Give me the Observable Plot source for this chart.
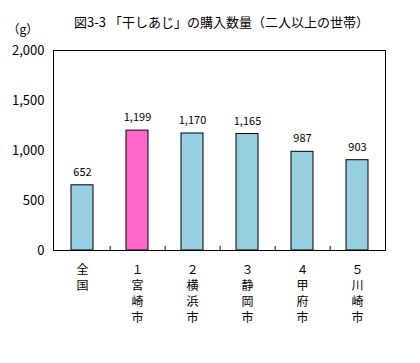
<!DOCTYPE html>
<html><head><meta charset="utf-8">
<script src="https://cdn.jsdelivr.net/npm/d3@7"></script>
<script src="https://cdn.jsdelivr.net/npm/@observablehq/plot@0.6"></script>
<style>
html,body{margin:0;padding:0;background:#fff;overflow:hidden;}
svg{display:block;font-family:"Noto Sans CJK JP",sans-serif;}
</style></head><body><div id="chart"></div>
<script>
const categories = ["全国", "1宮崎市", "2横浜市", "3静岡市", "4甲府市", "5川崎市"];
const values = [652, 1199, 1170, 1165, 987, 903];
const highlight = "1宮崎市";
const yTicks = [0, 500, 1000, 1500, 2000];
const title = "図3-3 「干しあじ」の購入数量（二人以上の世帯）";
const unit = "（g）";

const data = categories.map((c, i) => ({cat: c, value: values[i]}));
const toFullDigit = s => s.replace(/[0-9]/g, ch => String.fromCharCode(ch.charCodeAt(0) + 0xFEE0));
const vertical = s => Array.from(toFullDigit(s)).join("\n");

const plot = Plot.plot({
  width: 420, height: 363,
  marginLeft: 53, marginRight: 35, marginTop: 50, marginBottom: 113,
  style: {fontFamily: "'Noto Sans CJK JP', sans-serif", background: "#fff"},
  x: {domain: categories, paddingInner: 0.6, paddingOuter: 0.3, axis: null, label: null},
  y: {domain: [0, 2000], axis: null, label: null},
  marks: [
    Plot.barY(data, {x: "cat", y: "value", fill: d => d.cat === highlight ? "#FF66CC" : "#96CFE0", stroke: "#000", strokeWidth: 1}),
    Plot.ruleX(categories.slice(0, -1), {x: d => d, y1: 0, y2: 40, dx: 332 / 12, stroke: "#000"}),
    Plot.frame({stroke: "#000", strokeWidth: 1}),
    Plot.text(data, {x: "cat", y: "value", text: d => d3.format(",")(d.value), dy: -13, fontSize: 11, fill: "#000"}),
    Plot.axisY({ticks: yTicks, tickFormat: d3.format(","), tickSize: 0, tickPadding: 9, fontSize: 13, fill: "#000", label: null}),
    Plot.axisX({tickSize: 0, tickPadding: 12, tickFormat: vertical, fontSize: 12, lineHeight: 1.33, fill: "#000", label: null}),
    Plot.text([title], {frameAnchor: "top", text: d => d, dy: -33, dx: 2, fontSize: 13, fill: "#000"}),
    Plot.text([unit], {frameAnchor: "top-left", text: d => d, dx: -46, dy: -25, textAnchor: "start", fontSize: 12, fill: "#000"})
  ]
});
document.getElementById("chart").appendChild(plot);
</script></body></html>
